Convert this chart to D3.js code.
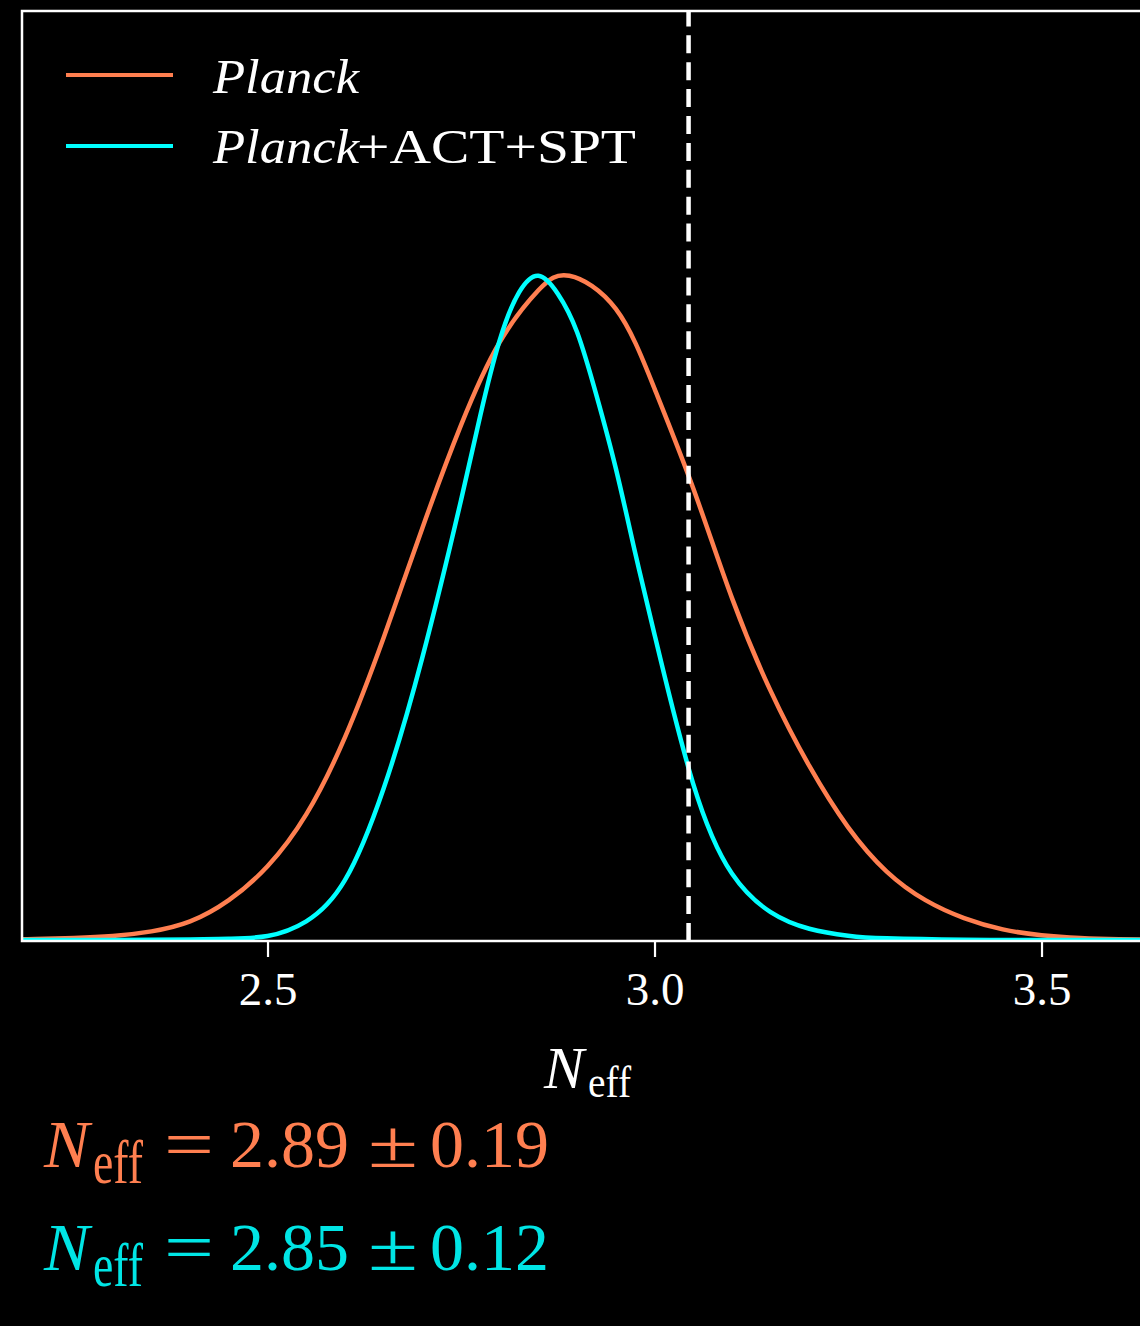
<!DOCTYPE html>
<html>
<head>
<meta charset="utf-8">
<script src="https://cdn.jsdelivr.net/npm/d3@7"></script>
<style>
  html, body { margin: 0; padding: 0; background: #000; }
  svg { display: block; }
</style>
</head>
<body>
<svg id="chart" width="1140" height="1326"></svg>
<script>
// ---- data ----
const xTicks = [2.5, 3.0, 3.5];
const xTickLabels = ["2.5", "3.0", "3.5"];
const nEffStandard = 3.044;

// Planck posterior (normalised to peak = 1)
const planckX = [2.183, 2.20, 2.25, 2.30, 2.35, 2.40, 2.45, 2.50, 2.55, 2.60, 2.65, 2.70, 2.75, 2.80, 2.85, 2.89, 2.95, 3.00, 3.05, 3.10, 3.15, 3.20, 3.25, 3.30, 3.35, 3.40, 3.45, 3.50, 3.55, 3.60, 3.65];
const planckP = [0.0012, 0.0015, 0.003, 0.006, 0.013, 0.028, 0.060, 0.111, 0.189, 0.305, 0.455, 0.620, 0.775, 0.900, 0.978, 1.000, 0.950, 0.830, 0.680, 0.515, 0.375, 0.262, 0.170, 0.103, 0.060, 0.033, 0.016, 0.0072, 0.0030, 0.0012, 0.0005];

// Planck+ACT+SPT posterior (normalised to peak = 1)
const comboX = [2.183, 2.30, 2.40, 2.45, 2.50, 2.55, 2.60, 2.65, 2.70, 2.75, 2.775, 2.80, 2.825, 2.85, 2.875, 2.90, 2.925, 2.95, 2.975, 3.00, 3.05, 3.10, 3.15, 3.20, 3.25, 3.30, 3.40, 3.50, 3.65];
const comboP = [0.0, 0.0001, 0.0008, 0.002, 0.006, 0.028, 0.090, 0.228, 0.425, 0.662, 0.790, 0.903, 0.975, 1.000, 0.973, 0.915, 0.820, 0.710, 0.583, 0.460, 0.235, 0.100, 0.042, 0.017, 0.0065, 0.0025, 0.0004, 0.0001, 0.0];

const seriesNames = ["Planck", "Planck+ACT+SPT"];
const seriesColors = ["#FF7F50", "#00FFFF"];
const resultValues = ["2.89", "2.85"];
const resultErrors = ["0.19", "0.12"];
const resultColors = ["#FF7F50", "#00E5E5"];

// ---- layout ----
const svg = d3.select("#chart");
svg.append("rect").attr("width", 1140).attr("height", 1326).attr("fill", "#000");

const pLeft = 22, pRight = 1157, pTop = 10, pBottom = 940;
const x = d3.scaleLinear().domain([2.1828, 3.6492]).range([pLeft, pRight]);
const y = d3.scaleLinear().domain([0, 1.4]).range([pBottom, pTop]);

const serif = "'Liberation Serif', 'Times New Roman', serif";

svg.append("defs").append("clipPath").attr("id", "plotclip")
  .append("rect").attr("x", pLeft).attr("y", pTop).attr("width", pRight - pLeft).attr("height", pBottom - pTop + 1.5);

const plot = svg.append("g").attr("clip-path", "url(#plotclip)");

const line = d3.line()
  .x(d => x(d[0]))
  .y(d => y(Math.max(0, d[1])))
  .curve(d3.curveNatural);

const series = [
  d3.zip(planckX, planckP),
  d3.zip(comboX, comboP)
];

series.forEach((s, i) => {
  plot.append("path")
    .datum(s)
    .attr("d", line)
    .attr("fill", "none")
    .attr("stroke", seriesColors[i])
    .attr("stroke-width", 4.5)
    .attr("stroke-linejoin", "round");
});

// dashed reference line (drawn from bottom upward)
plot.append("line")
  .attr("x1", x(nEffStandard)).attr("x2", x(nEffStandard))
  .attr("y1", pBottom + 1).attr("y2", pTop)
  .attr("stroke", "#fff")
  .attr("stroke-width", 4.5)
  .attr("stroke-dasharray", "18 8.9");

// frame
svg.append("rect")
  .attr("x", pLeft).attr("y", pTop + 1)
  .attr("width", pRight - pLeft).attr("height", pBottom - pTop)
  .attr("fill", "none")
  .attr("stroke", "#fff")
  .attr("stroke-width", 2.5);

// x axis
const axis = d3.axisBottom(x)
  .tickValues(xTicks)
  .tickFormat((d, i) => xTickLabels[i])
  .tickSize(16)
  .tickPadding(0);

const gx = svg.append("g")
  .attr("transform", `translate(0,${pBottom + 1})`)
  .call(axis);
gx.select(".domain").remove();
gx.selectAll(".tick line").attr("stroke", "#fff").attr("stroke-width", 2.2);
gx.selectAll(".tick text")
  .attr("fill", "#fff")
  .attr("y", 64)
  .attr("dy", 0)
  .style("font-family", serif)
  .style("font-size", "47px");

// x axis label
svg.append("text")
  .attr("x", 544).attr("y", 1088)
  .attr("fill", "#fff")
  .style("font-family", serif).style("font-style", "italic").style("font-size", "60px")
  .text("N");
svg.append("text")
  .attr("x", 588).attr("y", 1097)
  .attr("fill", "#fff")
  .attr("textLength", 43).attr("lengthAdjust", "spacingAndGlyphs")
  .style("font-family", serif).style("font-size", "44px")
  .text("eff");

// legend
const legendY = [75, 146];
const legendBase = [92.7, 163.3];
seriesNames.forEach((name, i) => {
  svg.append("line")
    .attr("x1", 66).attr("x2", 173)
    .attr("y1", legendY[i]).attr("y2", legendY[i])
    .attr("stroke", seriesColors[i])
    .attr("stroke-width", 4);
  svg.append("text")
    .attr("x", 213).attr("y", legendBase[i])
    .attr("fill", "#fff")
    .attr("textLength", 146).attr("lengthAdjust", "spacingAndGlyphs")
    .style("font-family", serif).style("font-style", "italic").style("font-size", "49px")
    .text("Planck");
  if (name.length > 6) {
    svg.append("text")
      .attr("x", 357).attr("y", legendBase[i])
      .attr("fill", "#fff")
      .attr("textLength", 279).attr("lengthAdjust", "spacingAndGlyphs")
      .style("font-family", serif).style("font-size", "49px")
      .text(name.slice(6));
  }
});

// results text
const resBase = [1167, 1270];
resultValues.forEach((v, i) => {
  const g = svg.append("g").attr("fill", resultColors[i]).style("font-family", serif);
  g.append("text").attr("x", 44).attr("y", resBase[i])
    .style("font-style", "italic").style("font-size", "68px").text("N");
  g.append("text").attr("x", 93).attr("y", resBase[i] + 16)
    .attr("textLength", 50).attr("lengthAdjust", "spacingAndGlyphs")
    .style("font-size", "62px").text("eff");
  g.append("text").attr("x", 164).attr("y", resBase[i])
    .attr("textLength", 50).attr("lengthAdjust", "spacingAndGlyphs")
    .style("font-size", "68px").text("=");
  g.append("text").attr("x", 230).attr("y", resBase[i])
    .style("font-size", "68px").text(v);
  g.append("text").attr("x", 368).attr("y", resBase[i])
    .attr("textLength", 50).attr("lengthAdjust", "spacingAndGlyphs")
    .style("font-size", "68px").text("±");
  g.append("text").attr("x", 430).attr("y", resBase[i])
    .style("font-size", "68px").text(resultErrors[i]);
});
</script>
</body>
</html>
